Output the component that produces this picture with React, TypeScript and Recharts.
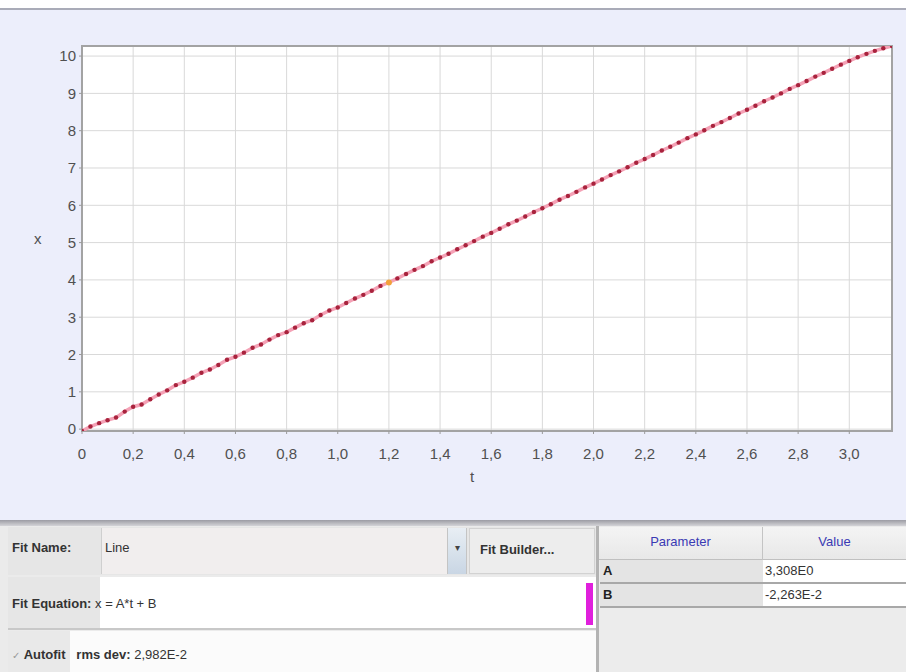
import { CartesianGrid, Line, LineChart, ReferenceArea, XAxis, YAxis } from "recharts"

// time of each video frame (s)
const frameTimes = [
  0, 0.033, 0.067, 0.1, 0.133, 0.167, 0.2, 0.233, 0.267, 0.3, 0.333, 0.367, 0.4, 0.433, 0.467, 0.5,
  0.533, 0.567, 0.6, 0.633, 0.667, 0.7, 0.733, 0.767, 0.8, 0.833, 0.867, 0.9, 0.933, 0.967, 1.0,
  1.033, 1.067, 1.1, 1.133, 1.167, 1.2, 1.233, 1.267, 1.3, 1.333, 1.367, 1.4, 1.433, 1.467, 1.5,
  1.533, 1.567, 1.6, 1.633, 1.667, 1.7, 1.733, 1.767, 1.8, 1.833, 1.867, 1.9, 1.933, 1.967, 2.0,
  2.033, 2.067, 2.1, 2.133, 2.167, 2.2, 2.233, 2.267, 2.3, 2.333, 2.367, 2.4, 2.433, 2.467, 2.5,
  2.533, 2.567, 2.6, 2.633, 2.667, 2.7, 2.733, 2.767, 2.8, 2.833, 2.867, 2.9, 2.933, 2.967, 3.0,
  3.033, 3.067, 3.1, 3.133, 3.167,
]

// measured position x for each frame
const positions = [
  -0.05, 0.07, 0.16, 0.24, 0.31, 0.47, 0.6, 0.66, 0.8, 0.93, 1.04, 1.18, 1.27, 1.38, 1.51, 1.6,
  1.72, 1.86, 1.94, 2.05, 2.18, 2.27, 2.4, 2.52, 2.6, 2.72, 2.84, 2.92, 3.06, 3.18, 3.26,
  3.38, 3.5, 3.6, 3.71, 3.84, 3.93, 4.04, 4.16, 4.27, 4.37, 4.5, 4.6, 4.7, 4.82, 4.93,
  5.04, 5.16, 5.26, 5.37, 5.49, 5.59, 5.7, 5.82, 5.92, 6.03, 6.15, 6.25, 6.36, 6.48, 6.58,
  6.69, 6.81, 6.91, 7.02, 7.14, 7.24, 7.35, 7.47, 7.57, 7.68, 7.8, 7.9, 8.01, 8.13, 8.23,
  8.34, 8.46, 8.56, 8.67, 8.79, 8.89, 9.0, 9.12, 9.22, 9.33, 9.45, 9.55, 9.66, 9.77, 9.87,
  9.97, 10.06, 10.14, 10.21, 10.27,
]

const selectedFrame = 36

const tTicks = [0, 0.2, 0.4, 0.6, 0.8, 1.0, 1.2, 1.4, 1.6, 1.8, 2.0, 2.2, 2.4, 2.6, 2.8, 3.0]
const xTicks = [0, 1, 2, 3, 4, 5, 6, 7, 8, 9, 10]
const tDomain = [0, 3.167]
const xDomain = [-0.05, 10.27]

const fitParams = [
  { name: "A", value: "3,308E0" },
  { name: "B", value: "-2,263E-2" },
]

const rows = frameTimes.map((t, i) => ({ t, x: positions[i] }))

const fmtT = (v: number) => (v === 0 ? "0" : v.toFixed(1).replace(".", ","))

const ui = "'Liberation Sans', Arial, sans-serif"
const tickStyle = { fill: "#505050", fontSize: 15, fontFamily: ui }

function Dot(props: any) {
  const { cx, cy, index } = props
  const sel = index === selectedFrame
  return (
    <circle
      key={`p${index}`}
      cx={cx}
      cy={cy}
      r={sel ? 3 : 2.2}
      fill={sel ? "#f2a13a" : "#a8233d"}
      stroke="none"
    />
  )
}

export default function App() {
  return (
    <div
      style={{
        position: "absolute",
        left: 0,
        top: 0,
        width: 906,
        height: 672,
        overflow: "hidden",
        background: "#ebebeb",
        fontFamily: ui,
      }}
    >
      {/* plot panel */}
      <div style={{ position: "absolute", left: 0, top: 0, width: 906, height: 520, background: "#eceefb" }}>
        <div style={{ position: "absolute", left: 0, top: 0, width: 906, height: 8, background: "#fff" }} />
        <div style={{ position: "absolute", left: 0, top: 8, width: 906, height: 2, background: "#a9abb8" }} />
        <div style={{ position: "absolute", left: 0, top: 0 }}>
          <LineChart width={906} height={515} data={rows} margin={{ top: 46, right: 14, bottom: 0, left: 0 }}>
            <CartesianGrid stroke="#d9d9d9" fill="#fff" strokeWidth={1} />
            <XAxis
              dataKey="t"
              type="number"
              domain={tDomain}
              ticks={tTicks}
              allowDataOverflow
              height={84}
              axisLine={false}
              tickLine={{ stroke: "#9a9a9a" }}
              tickSize={3}
              tickMargin={14}
              tick={tickStyle}
              tickFormatter={fmtT}
              interval={0}
            />
            <YAxis
              type="number"
              domain={xDomain}
              ticks={xTicks}
              allowDataOverflow
              width={82}
              axisLine={false}
              tickLine={{ stroke: "#9a9a9a" }}
              tickSize={3}
              tickMargin={3}
              tick={tickStyle}
              interval={0}
            />
            <ReferenceArea
              x1={tDomain[0]}
              x2={tDomain[1]}
              y1={xDomain[0]}
              y2={xDomain[1]}
              fill="none"
              stroke="#a3a3a3"
              strokeWidth={2}
              ifOverflow="visible"
            />
            <Line
              dataKey="x"
              type="linear"
              stroke="#f4a2b6"
              strokeWidth={3.5}
              dot={Dot}
              activeDot={false}
              isAnimationActive={false}
            />
          </LineChart>
        </div>
        <div style={{ position: "absolute", left: 34, top: 230, fontSize: 15, color: "#505050" }}>x</div>
        <div style={{ position: "absolute", left: 470, top: 468, fontSize: 15, color: "#505050" }}>t</div>
      </div>

      {/* separator */}
      <div
        style={{
          position: "absolute",
          left: 0,
          top: 520,
          width: 906,
          height: 6,
          background: "linear-gradient(#9c9ca4, #d4d4d8)",
        }}
      />

      {/* fit controls */}
      <div style={{ position: "absolute", left: 8, top: 527, width: 589, height: 48, background: "#e6e6e6" }} />
      <div style={{ position: "absolute", left: 12, top: 540, fontSize: 13, fontWeight: "bold", color: "#333" }}>
        Fit Name:
      </div>
      <div
        style={{
          position: "absolute",
          left: 101,
          top: 528,
          width: 345,
          height: 46,
          background: "#f1eeee",
          borderLeft: "1px solid #cfcfcf",
        }}
      />
      <div style={{ position: "absolute", left: 105, top: 540, fontSize: 13, color: "#333" }}>Line</div>
      <div
        style={{
          position: "absolute",
          left: 447,
          top: 528,
          width: 18,
          height: 46,
          background: "linear-gradient(#e8eef4, #c9d6e4)",
          borderLeft: "1px solid #c4c4c4",
          borderRight: "1px solid #c4c4c4",
          fontSize: 10,
          color: "#444",
          textAlign: "center",
          lineHeight: "40px",
        }}
      >
        ▾
      </div>
      <div
        style={{
          position: "absolute",
          left: 469,
          top: 528,
          width: 126,
          height: 46,
          background: "#ededed",
          border: "1px solid #d2d2d2",
          boxSizing: "border-box",
          fontSize: 13,
          fontWeight: "bold",
          color: "#333",
          lineHeight: "42px",
          paddingLeft: 10,
        }}
      >
        Fit Builder...
      </div>

      <div style={{ position: "absolute", left: 8, top: 577, width: 589, height: 52, background: "#fff" }} />
      <div style={{ position: "absolute", left: 8, top: 577, width: 92, height: 52, background: "#e6e6e6" }} />
      <div
        style={{
          position: "absolute",
          left: 8,
          top: 628,
          width: 589,
          height: 2,
          background: "#c8c8c8",
        }}
      />
      <div style={{ position: "absolute", left: 12, top: 596, fontSize: 13, color: "#333", whiteSpace: "nowrap" }}>
        <b>Fit Equation:</b> x = A*t + B
      </div>
      <div style={{ position: "absolute", left: 586, top: 583, width: 7, height: 42, background: "#e020dc" }} />

      <div style={{ position: "absolute", left: 8, top: 631, width: 589, height: 41, background: "#fbfbfb" }} />
      <div style={{ position: "absolute", left: 8, top: 631, width: 62, height: 41, background: "#e9e9e9" }} />
      <div
        style={{
          position: "absolute",
          left: 12,
          top: 647,
          fontSize: 13,
          color: "#333",
          whiteSpace: "nowrap",
        }}
      >
        <span style={{ color: "#999", fontSize: 10 }}>✓</span> <b>Autofit</b>&nbsp;&nbsp;&nbsp;<b>rms dev:</b>
        <span> 2,982E-2</span>
      </div>

      {/* parameter table */}
      <div style={{ position: "absolute", left: 596, top: 526, width: 3, height: 146, background: "#b3b3b3" }} />
      <div style={{ position: "absolute", left: 599, top: 527, width: 307, height: 145, background: "#ececec" }} />
      <div
        style={{
          position: "absolute",
          left: 599,
          top: 527,
          width: 307,
          height: 32,
          background: "linear-gradient(#f4f4f4, #e8e8e8)",
          borderBottom: "1px solid #c0c0c0",
        }}
      />
      <div style={{ position: "absolute", left: 762, top: 527, width: 1, height: 81, background: "#c4c4c4" }} />
      <div
        style={{
          position: "absolute",
          left: 599,
          top: 534,
          width: 163,
          textAlign: "center",
          fontSize: 13,
          color: "#3a3ab4",
        }}
      >
        Parameter
      </div>
      <div
        style={{
          position: "absolute",
          left: 763,
          top: 534,
          width: 143,
          textAlign: "center",
          fontSize: 13,
          color: "#3a3ab4",
        }}
      >
        Value
      </div>
      {fitParams.map((p, i) => (
        <div key={p.name}>
          <div
            style={{
              position: "absolute",
              left: 600,
              top: 560 + i * 24,
              width: 162,
              height: 22,
              background: "#e4e4e4",
              borderBottom: "2px solid #a8a8a8",
              fontSize: 13,
              fontWeight: "bold",
              color: "#222",
              lineHeight: "22px",
              paddingLeft: 3,
              boxSizing: "content-box",
            }}
          >
            {p.name}
          </div>
          <div
            style={{
              position: "absolute",
              left: 763,
              top: 560 + i * 24,
              width: 143,
              height: 22,
              background: "#fff",
              borderBottom: "2px solid #a8a8a8",
              fontSize: 13,
              color: "#333",
              lineHeight: "22px",
              paddingLeft: 2,
            }}
          >
            {p.value}
          </div>
        </div>
      ))}
    </div>
  )
}
